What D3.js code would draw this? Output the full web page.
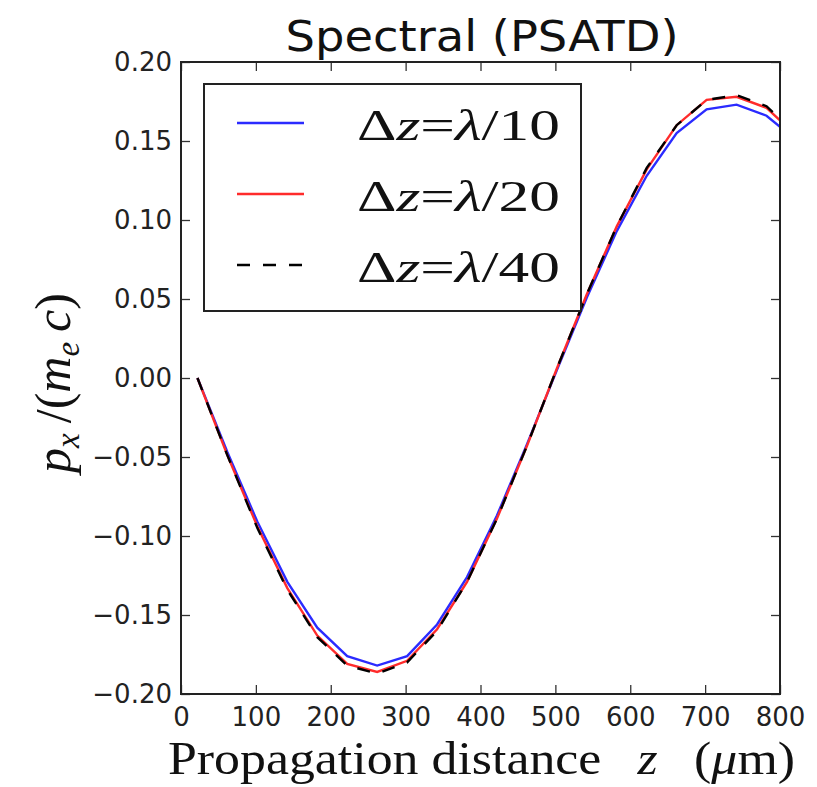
<!DOCTYPE html>
<html><head><meta charset="utf-8">
<script src="https://cdn.jsdelivr.net/npm/d3@7"></script>
<style>body{margin:0;background:#fff}svg{display:block}</style>
</head><body>
<svg id="c" width="817" height="787"></svg>
<script>
const zValues = [22, 62, 102, 142, 182, 222, 262, 302, 342, 382, 422, 462, 502, 542, 582, 622, 662, 702, 742, 782, 800];
const pxL10 = [0, -0.047, -0.091, -0.129, -0.158, -0.176, -0.182, -0.176, -0.156, -0.126, -0.087, -0.042, 0.005, 0.051, 0.093, 0.128, 0.155, 0.170, 0.173, 0.166, 0.159];
const pxL20 = [0, -0.049, -0.094, -0.133, -0.163, -0.181, -0.186, -0.179, -0.159, -0.129, -0.089, -0.043, 0.006, 0.053, 0.096, 0.132, 0.160, 0.176, 0.178, 0.171, 0.163];
const pxL40 = [0, -0.049, -0.095, -0.134, -0.164, -0.182, -0.187, -0.180, -0.160, -0.129, -0.089, -0.043, 0.006, 0.053, 0.096, 0.133, 0.160, 0.176, 0.179, 0.172, 0.164];
const xTicks = [0, 100, 200, 300, 400, 500, 600, 700, 800];
const yTicks = [-0.20, -0.15, -0.10, -0.05, 0.00, 0.05, 0.10, 0.15, 0.20];
const legendLabels = ["10", "20", "40"];
const titleText = "Spectral (PSATD)";

const svg = d3.select("#c");
const L = 181, R = 780, T = 62, B = 694;
const x = d3.scaleLinear().domain([0, 800]).range([L, R]);
const y = d3.scaleLinear().domain([-0.2, 0.2]).range([B, T]);

svg.append("defs").append("clipPath").attr("id", "clip")
  .append("rect").attr("x", L).attr("y", T).attr("width", R - L).attr("height", B - T);

const series = [
  {vals: pxL10, color: "#2b2bff", dash: null},
  {vals: pxL20, color: "#ff2b2b", dash: null},
  {vals: pxL40, color: "#000", dash: "13,13"}
];
const line = d3.line().x(d => x(d[0])).y(d => y(d[1]));
const g = svg.append("g").attr("clip-path", "url(#clip)");
series.forEach(s => {
  g.append("path").datum(zValues.map((z, i) => [z, s.vals[i]]))
    .attr("d", line).attr("fill", "none").attr("stroke", s.color)
    .attr("stroke-width", 2.4).attr("stroke-dasharray", s.dash);
});

// axes (inward ticks all round)
const tickLen = 9;
const axB = svg.append("g").attr("transform", `translate(0,${B})`)
  .call(d3.axisBottom(x).tickValues(xTicks).tickSizeInner(-tickLen).tickSizeOuter(0).tickPadding(14).tickFormat(d3.format("d")));
const axT = svg.append("g").attr("transform", `translate(0,${T})`)
  .call(d3.axisTop(x).tickValues(xTicks).tickSizeInner(-tickLen).tickSizeOuter(0).tickFormat(""));
const axL = svg.append("g").attr("transform", `translate(${L},0)`)
  .call(d3.axisLeft(y).tickValues(yTicks).tickSizeInner(-tickLen).tickSizeOuter(0).tickPadding(9)
    .tickFormat(d => d3.format(".2f")(d).replace("-", "\u2212")));
const axR = svg.append("g").attr("transform", `translate(${R},0)`)
  .call(d3.axisRight(y).tickValues(yTicks).tickSizeInner(-tickLen).tickSizeOuter(0).tickFormat(""));
[axB, axT, axL, axR].forEach(a => {
  a.select(".domain").remove();
  a.selectAll(".tick line").attr("stroke", "#333").attr("stroke-width", 1.3);
  a.selectAll("text").attr("font-family", "DejaVu Sans").attr("font-size", 26).attr("fill", "#222");
});
axB.selectAll("text").attr("dy", "0.71em");
svg.append("rect").attr("x", L).attr("y", T).attr("width", R - L).attr("height", B - T)
  .attr("fill", "none").attr("stroke", "#222").attr("stroke-width", 2);

// title
svg.append("text").attr("x", 482).attr("y", 51).attr("text-anchor", "middle")
  .attr("font-family", "DejaVu Sans").attr("font-size", 43).attr("fill", "#111")
  .attr("textLength", 393).attr("lengthAdjust", "spacingAndGlyphs").text(titleText);

// legend
const lg = svg.append("g");
lg.append("rect").attr("x", 204).attr("y", 84).attr("width", 377).attr("height", 227)
  .attr("fill", "#fff").attr("stroke", "#222").attr("stroke-width", 2);
legendLabels.forEach((lab, i) => {
  const yy = 123 + i * 71;
  lg.append("line").attr("x1", 237).attr("x2", 304).attr("y1", yy).attr("y2", yy)
    .attr("stroke", series[i].color).attr("stroke-width", 2.4).attr("stroke-dasharray", series[i].dash);
  const t = lg.append("text").attr("x", 357).attr("y", yy + 17)
    .attr("font-family", "Liberation Serif").attr("font-size", 44).attr("fill", "#111")
    .attr("textLength", 203).attr("lengthAdjust", "spacingAndGlyphs");
  t.append("tspan").text("\u0394");
  t.append("tspan").attr("font-style", "italic").text("z");
  t.append("tspan").text("=");
  t.append("tspan").attr("font-style", "italic").text("\u03bb");
  t.append("tspan").text("/" + lab);
});

// x label
const xl = svg.append("text").attr("x", 168).attr("y", 774)
  .attr("font-family", "Liberation Serif").attr("font-size", 46).attr("fill", "#111")
  .attr("textLength", 627).attr("lengthAdjust", "spacingAndGlyphs");
xl.append("tspan").text("Propagation distance\u2002\u2009");
xl.append("tspan").attr("font-style", "italic").text("z");
xl.append("tspan").text("\u2002\u2009(");
xl.append("tspan").attr("font-style", "italic").text("\u03bc");
xl.append("tspan").text("m)");

// y label
const yl = svg.append("text").attr("transform", "translate(70,383) rotate(-90)")
  .attr("text-anchor", "middle").attr("font-family", "Liberation Serif").attr("font-size", 50).attr("fill", "#111");
yl.append("tspan").attr("font-style", "italic").text("p");
yl.append("tspan").attr("font-style", "italic").attr("font-size", 33).attr("dy", 9).text("x");
yl.append("tspan").attr("dy", -9).text("\u2009/(");
yl.append("tspan").attr("font-style", "italic").text("m");
yl.append("tspan").attr("font-style", "italic").attr("font-size", 33).attr("dy", 9).text("e");
yl.append("tspan").attr("dy", -9).attr("font-style", "italic").text("\u2009c");
yl.append("tspan").text(")");
</script>
</body></html>
